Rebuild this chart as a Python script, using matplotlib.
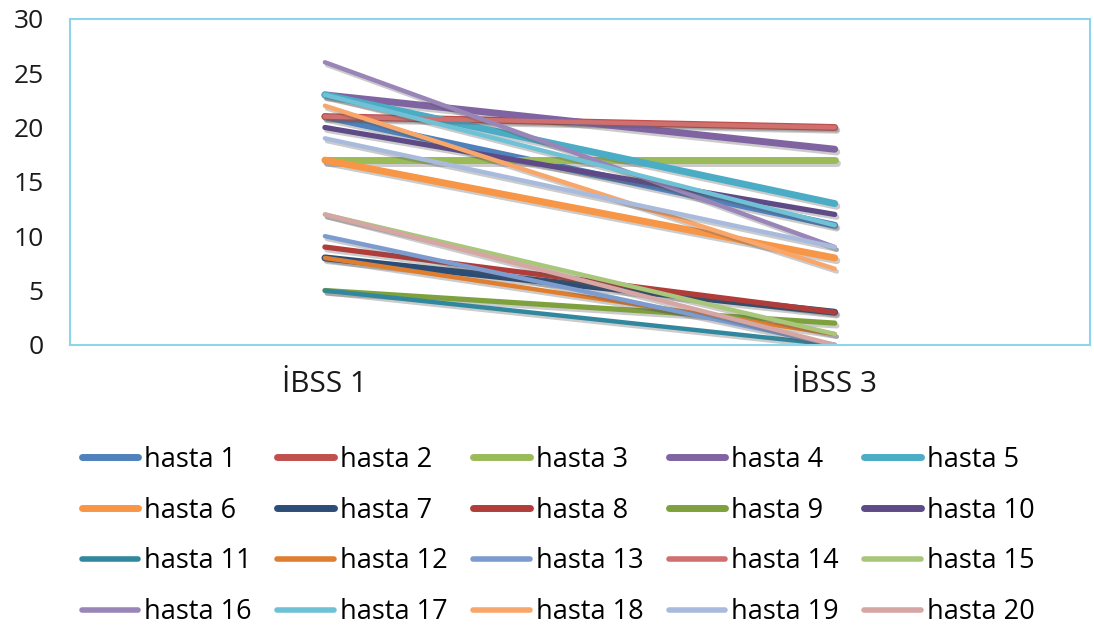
import matplotlib.pyplot as plt
import matplotlib.patheffects as pe

plt.rcParams['font.family'] = ['Open Sans', 'DejaVu Sans']

categories = ['İBSS 1', 'İBSS 3']
labels = ['hasta %d' % i for i in range(1, 21)]

# scores at İBSS 1 and İBSS 3 for each patient
ibss1 = [21, 21, 17, 23, 23, 17, 8, 9, 5, 20,
         5, 8, 10, 21, 12, 26, 23, 22, 19, 12]
ibss3 = [11, 20, 17, 18, 13, 8, 3, 3, 2, 12,
         0, 1, 0, 20, 1, 9, 11, 7, 9, 0]

colors = ['#4F81BD', '#C0504D', '#9BBB59', '#8064A2', '#4BACC6',
          '#F79646', '#2C4D75', '#B03D3A', '#7EA13E', '#5E4A87',
          '#31889E', '#E07E30', '#7C9CD0', '#D0706E', '#A8C77A',
          '#9985B8', '#6FC1D6', '#F9A66A', '#A9BBDD', '#D6A6A4']
widths = [5] * 7 + [3.8] * 3 + [3.2] * 10

fig = plt.figure(figsize=(10.94, 6.27), dpi=100)
ax = fig.add_axes([0.064, 0.45, 0.932, 0.52])

x = [0, 1]
handles = []
for i in range(20):
    ln, = ax.plot(x, [ibss1[i], ibss3[i]], color=colors[i], lw=widths[i],
                  solid_capstyle='round', label=labels[i],
                  path_effects=[pe.SimpleLineShadow(offset=(1.5, -2), alpha=0.3,
                                                    shadow_color='#555555'),
                                pe.Normal()])
    handles.append(ln)

ax.set_xlim(-0.5, 1.5)
ax.set_ylim(0, 30)
ax.set_yticks(range(0, 31, 5))
ax.set_xticks(x)
ax.set_xticklabels(categories)
for s in ax.spines.values():
    s.set_color('#8ED4EA')
    s.set_linewidth(1.5)
ax.tick_params(axis='both', length=0, colors='#1a1a1a')
ax.tick_params(axis='y', pad=19, labelsize=19)
ax.tick_params(axis='x', pad=18, labelsize=21.5)

# legend filled row by row
order = [r * 5 + c for c in range(5) for r in range(4)]
leg = fig.legend([handles[k] for k in order], [labels[k] for k in order],
                 loc='upper left', bbox_to_anchor=(0.0745, 0.289), ncol=5,
                 frameon=False, fontsize=19.5, handlelength=2.1, handletextpad=0.22,
                 columnspacing=0.93, labelspacing=0.84, borderaxespad=0,
                 borderpad=0)
for k, h in zip(order, leg.legend_handles):
    h.set_linewidth(5 if k < 10 else 4)
    h.set_path_effects([])

fig.savefig('out.png', dpi=100)
